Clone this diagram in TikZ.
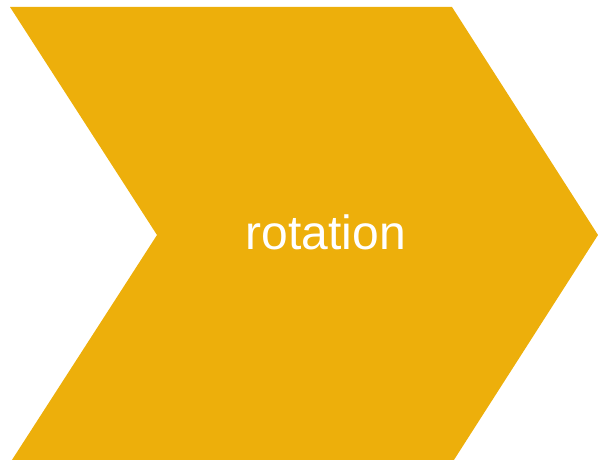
\documentclass[tikz,border=0pt]{standalone}
\usepackage{fontspec}
\setmainfont{Liberation Sans}
\definecolor{chevronyellow}{RGB}{237,175,11}

\begin{document}
\begin{tikzpicture}[
    x=1pt, y=1pt,
    chevron/.style={fill=chevronyellow, draw=none},
    label/.style={text=white, font=\fontsize{48}{58}\selectfont}
]

\clip (0,0) rectangle (598,460);

% Chevron arrow
\fill[chevron] (10,453) -- (452,453) -- (598,225) -- (452,-3) -- (10,-3) -- (157,225) -- cycle;

% Caption
\node[label, anchor=base, inner sep=0pt] (rotation) at (326,210.5) {rotation};

\end{tikzpicture}
\end{document}
